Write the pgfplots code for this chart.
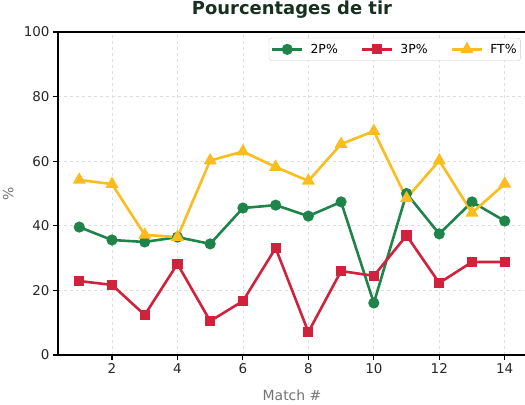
\documentclass[border=0pt]{standalone}
\usepackage{pgfplots}
\pgfplotsset{compat=1.18}
\usepackage{fontspec}
\setmainfont{DejaVu Sans}
\definecolor{cgreen}{HTML}{1E8449}
\definecolor{cred}{HTML}{D0213D}
\definecolor{cyel}{HTML}{FBBC1E}
\definecolor{ctitle}{HTML}{173020}
\begin{document}
\begin{tikzpicture}[x=1bp,y=1bp]
\useasboundingbox (-58,-49) rectangle (467,355);
\begin{axis}[
  at={(0,0)}, anchor=south west,
  scale only axis,
  width=468bp, height=323bp,
  xmin=0.35, xmax=14.65, ymin=0, ymax=100,
  xtick={2,4,6,8,10,12,14},
  ytick={0,20,40,60,80,100},
  /pgf/number format/assume math mode=true,
  ticklabel style={font=\fontsize{13.5}{15}\selectfont, text=black!85},
  tick style={black, line width=1.1bp},
  tick align=outside,
  major tick length=5bp,
  xtick pos=bottom, ytick pos=left,
  axis line style={black, line width=1.6bp},
  grid=major,
  grid style={dashed, black!13, line width=0.7bp},
  title={\bfseries Pourcentages de tir},
  title style={font=\fontsize{18}{20}\selectfont, text=ctitle, at={(0.5,1)}, anchor=base, yshift=12bp},
  xlabel={Match \#},
  ylabel={\%},
  label style={font=\fontsize{14}{16}\selectfont, text=black!55},
  xlabel style={at={(0.5,0)}, anchor=base, yshift=-45bp},
  ylabel style={at={(axis description cs:-0.106,0.5)}, anchor=center},
  legend columns=3,
  legend style={font=\fontsize{12.5}{14}\selectfont, draw=black!20, rounded corners=3bp, inner xsep=2bp, inner ysep=4bp,
    /tikz/every odd column/.append style={column sep=5bp},
    /tikz/every even column/.append style={column sep=21bp},
    at={(0.989,0.982)}, anchor=north east},
  legend cell align=left,
  legend image code/.code={\draw[mark repeat=2, mark phase=2] plot coordinates {(0bp,0bp) (15bp,0bp) (30bp,0bp)};},
  every axis plot/.append style={line width=2.6bp},
]
\addplot[cgreen, mark=*, mark size=4.2bp] coordinates {
(1,39.6) (2,35.6) (3,35.0) (4,36.5) (5,34.4) (6,45.5) (7,46.4) (8,43.0) (9,47.4) (10,16.1) (11,50.0) (12,37.5) (13,47.4) (14,41.5)};
\addlegendentry{2P\%}
\addplot[cred, mark=square*, mark size=3.8bp] coordinates {
(1,22.9) (2,21.7) (3,12.4) (4,28.2) (5,10.5) (6,16.7) (7,33.1) (8,7.1) (9,26.0) (10,24.5) (11,37.0) (12,22.3) (13,28.8) (14,28.8)};
\addlegendentry{3P\%}
\addplot[cyel, mark=triangle*, mark size=5bp] coordinates {
(1,54.2) (2,52.9) (3,37.2) (4,36.5) (5,60.2) (6,63.0) (7,58.2) (8,53.9) (9,65.3) (10,69.3) (11,48.5) (12,60.2) (13,44.0) (14,53.0)};
\addlegendentry{FT\%}
\end{axis}
\end{tikzpicture}
\end{document}
